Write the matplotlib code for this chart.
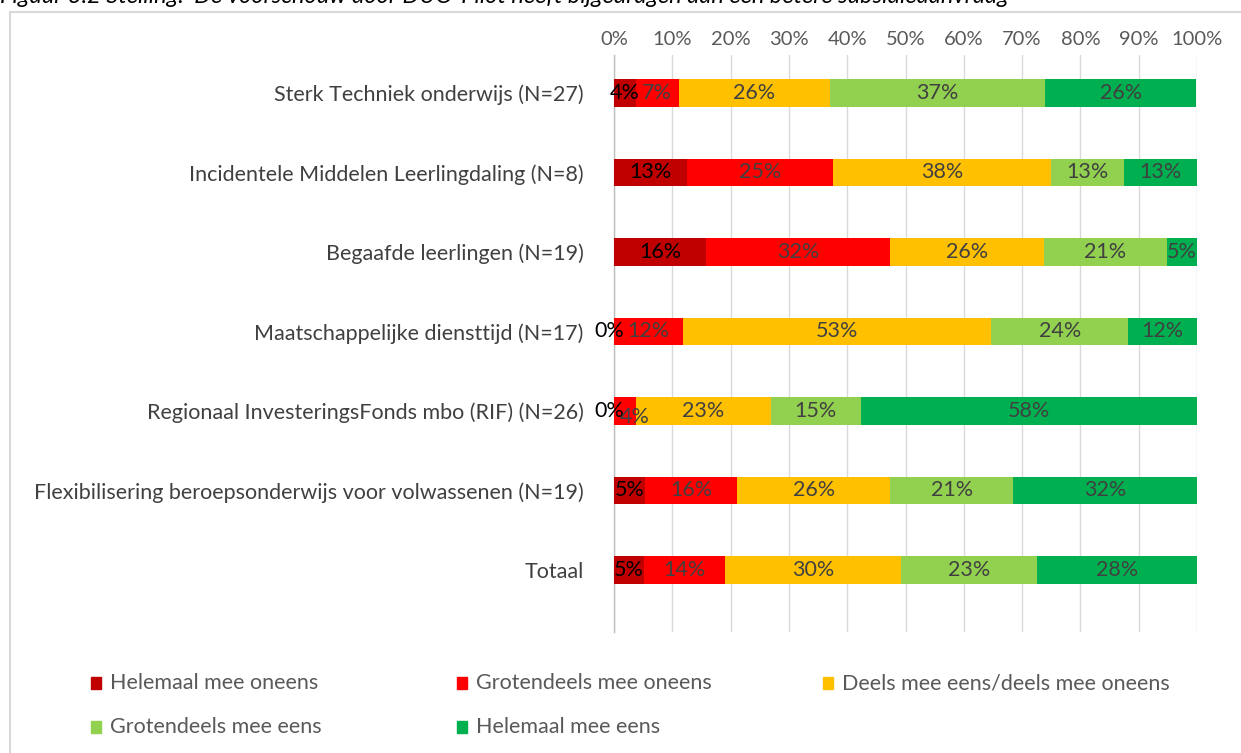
import numpy as np
import matplotlib.pyplot as plt
from matplotlib.patches import Rectangle

plt.rcParams['font.family'] = ['Lato', 'DejaVu Sans']

# categories top to bottom
categories = ["Sterk Techniek onderwijs (N=27)",
              "Incidentele Middelen Leerlingdaling (N=8)",
              "Begaafde leerlingen (N=19)",
              "Maatschappelijke diensttijd (N=17)",
              "Regionaal InvesteringsFonds mbo (RIF) (N=26)",
              "Flexibilisering beroepsonderwijs voor volwassenen (N=19)",
              "Totaal"]

series = ["Helemaal mee oneens", "Grotendeels mee oneens",
          "Deels mee eens/deels mee oneens", "Grotendeels mee eens",
          "Helemaal mee eens"]

helemaal_oneens = [3.7, 12.5, 15.8, 0.0, 0.0, 5.3, 5.2]
grotendeels_oneens = [7.4, 25.0, 31.6, 11.8, 3.8, 15.8, 13.8]
deels = [25.9, 37.5, 26.3, 52.9, 23.1, 26.3, 30.2]
grotendeels_eens = [37.0, 12.5, 21.1, 23.5, 15.4, 21.1, 23.3]
helemaal_eens = [25.9, 12.5, 5.3, 11.8, 57.7, 31.6, 27.6]

colors = ["#C00000", "#FF0000", "#FFC000", "#92D050", "#00B050"]
label_colors = ["black", "#404040", "#404040", "#404040", "#404040"]

W, H = 1241, 753
fig = plt.figure(figsize=(W / 100, H / 100), dpi=100)

# outer frame
fig.patches.append(Rectangle((10 / W, -0.01), 1.0, 1 - 12 / H + 0.01,
                             transform=fig.transFigure, fill=False,
                             edgecolor="#D9D9D9", linewidth=1.5))

fig.text(0.0, 1 - 3 / H,
         "Figuur 3.2 Stelling: \u2018De voorschouw door DUO-Pilot heeft bijgedragen aan een betere subsidieaanvraag\u2019",
         fontsize=17, style="italic", color="black", va="baseline", ha="left")

ax = fig.add_axes([614 / W, 1 - 632 / H, 583 / W, 577 / H])

fs = 15.5
y = np.arange(len(categories))
data = [helemaal_oneens, grotendeels_oneens, deels, grotendeels_eens, helemaal_eens]
left = np.zeros(len(categories))
prev = None
for vals, col, lcol in zip(data, colors, label_colors):
    vals = np.array(vals)
    ax.barh(y, vals, left=left, height=0.34, color=col, zorder=3)
    for i, (yi, l, v) in enumerate(zip(y, left, vals)):
        c = "black" if v == 0 else lcol
        xo, yo = (-0.8, 0) if v == 0 else (0, 0)
        # Excel nudges a small label that follows an empty one
        if prev is not None and prev[i] == 0 and v < 5:
            xo, yo = 1.6, 0.07
        ax.text(l + v / 2 + xo, yi + yo, "%d%%" % int(v + 0.5), ha="center",
                va="center", fontsize=fs, color=c, zorder=4)
    left += vals
    prev = vals

ax.set_xlim(0, 100)
ax.set_ylim(6.78, -0.478)
ax.set_xticks(np.arange(0, 101, 10))
ax.set_xticklabels(["%d%%" % t for t in range(0, 101, 10)])
ax.xaxis.tick_top()
ax.tick_params(axis="x", length=0, pad=5, labelsize=14.5, labelcolor="#595959")
ax.set_yticks(y)
ax.set_yticklabels(categories)
ax.tick_params(axis="y", length=0, pad=22, labelsize=fs, labelcolor="#404040")
ax.grid(axis="x", color="#D9D9D9", linewidth=1, zorder=0)
for s in ["top", "right", "bottom"]:
    ax.spines[s].set_visible(False)
ax.spines["left"].set_color("#BFBFBF")
ax.spines["left"].set_linewidth(1)

# legend
legend_pos = [(91, 683), (457, 683), (823, 683), (91, 727), (457, 727)]
for (px, py), name, col in zip(legend_pos, series, colors):
    fig.patches.append(Rectangle((px / W, 1 - (py + 6) / H), 10 / W, 12 / H,
                                 transform=fig.transFigure, color=col))
    fig.text((px + 19) / W, 1 - py / H, name, fontsize=15.5, color="#595959",
             va="center", ha="left")

fig.savefig("out.png", dpi=100)
